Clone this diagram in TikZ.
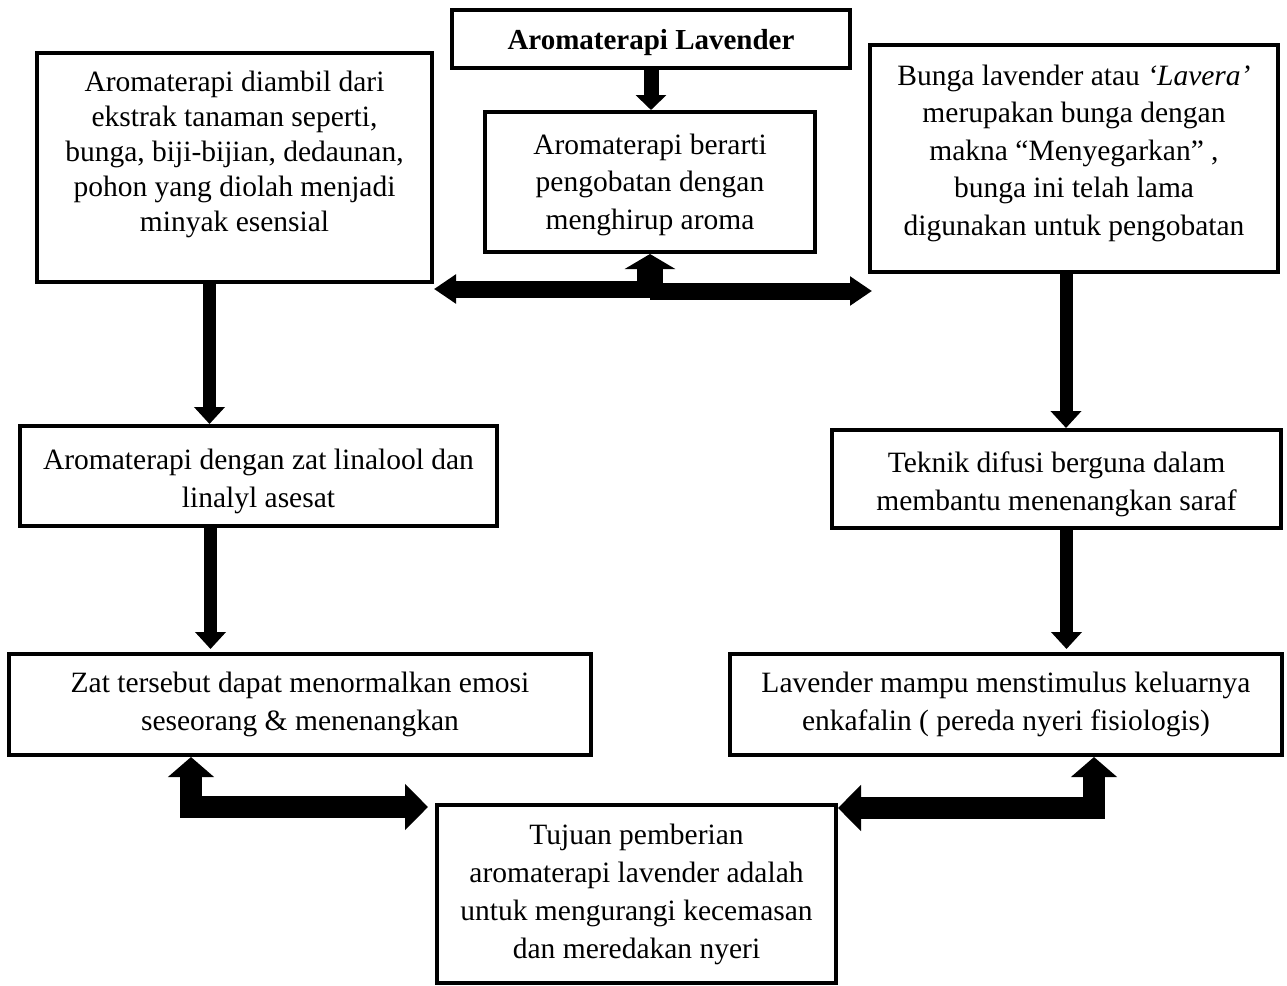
\documentclass[tikz,border=0pt]{standalone}
\usepackage{fontspec}
\setmainfont{Liberation Serif}
\usepackage{tikz}
\usetikzlibrary{arrows.meta, positioning, calc}

\begin{document}
\begin{tikzpicture}[x=1pt, y=-1pt]
\tikzset{box/.style={
    draw, line width=4pt,
    align=flush center,
    inner sep=0pt,
    font=\fontsize{29.5}{37.5}\selectfont
  },
  fat/.style={line width=13pt, -{Triangle[width=30pt,length=17pt]}},
  wide/.style={line width=17pt, -{Triangle[width=28pt,length=22pt]}},
  upfat/.style={line width=26pt, -{Triangle[width=50pt,length=15pt]}},
  ell/.style={line width=22pt, line join=miter,
    {Triangle[width=45pt,length=20pt]}-{Triangle[width=45pt,length=23pt]}}
}

\useasboundingbox (0,0) rectangle (1287,985);

% boxes
\node[box, minimum width=398pt, minimum height=58pt, text height=28pt, font=\bfseries\fontsize{29}{35}\selectfont] (title) at (651,39) {Aromaterapi Lavender};
\node[box, minimum width=395pt, minimum height=229pt, text width=385pt, text depth=172pt, font=\fontsize{29.5}{35}\selectfont] (src) at (234.5,167.5)
  {Aromaterapi diambil dari\\ ekstrak tanaman seperti,\\ bunga, biji-bijian, dedaunan,\\ pohon yang diolah menjadi\\ minyak esensial};
\node[box, minimum width=330pt, minimum height=140pt, text width=320pt, text height=26pt] (mean) at (650,182)
  {Aromaterapi berarti\\ pengobatan dengan\\ menghirup aroma};
\node[box, minimum width=408pt, minimum height=227pt, text width=398pt, text depth=167pt] (flower) at (1074,158.5)
  {Bunga lavender atau \textit{‘Lavera’}\\ merupakan bunga dengan\\ makna “Menyegarkan” ,\\ bunga ini telah lama\\ digunakan untuk pengobatan};
\node[box, minimum width=477pt, minimum height=100pt, text width=467pt, text height=31pt, font=\fontsize{29.5}{38}\selectfont] (linal) at (258.5,476)
  {Aromaterapi dengan zat linalool dan\\ linalyl asesat};
\node[box, minimum width=449pt, minimum height=98pt, text width=439pt, text height=31pt, font=\fontsize{29.5}{38}\selectfont] (difusi) at (1056.5,479)
  {Teknik difusi berguna dalam\\ membantu menenangkan saraf};
\node[box, minimum width=582pt, minimum height=101pt, text width=572pt] (emosi) at (300,704.5)
  {Zat tersebut dapat menormalkan emosi\\ seseorang \& menenangkan};
\node[box, minimum width=552pt, minimum height=101pt, text width=542pt] (enkef) at (1006,704.5)
  {Lavender mampu menstimulus keluarnya\\ enkafalin ( pereda nyeri fisiologis)};
\node[box, minimum width=399pt, minimum height=178pt, text width=389pt, font=\fontsize{29.5}{38}\selectfont] (goal) at (636.5,894)
  {Tujuan pemberian\\ aromaterapi lavender adalah\\ untuk mengurangi kecemasan\\ dan meredakan nyeri};

% arrows
\draw[fat, line width=15pt, -{Triangle[width=30pt,length=15pt]}] (title.south) -- (title.south |- mean.north);

\coordinate (hubL) at ([yshift=-35pt]mean.south);
\coordinate (hubR) at ([yshift=-37pt]mean.south);
\draw[wide] (hubL) -- (hubL -| src.east);
\draw[wide, shorten >=-4pt] (hubR) -- (hubR -| flower.west);
\draw[upfat] (hubL) -- (mean.south);

\coordinate (s1) at ([xshift=-25pt]src.south);
\draw[fat] (s1) -- (s1 |- linal.north);
\coordinate (s2) at ([xshift=-48pt]linal.south);
\draw[fat, shorten >=3pt] (s2) -- (s2 |- emosi.north);
\coordinate (f1) at ([xshift=-8pt]flower.south);
\draw[fat] (f1) -- (f1 |- difusi.north);
\coordinate (f2) at ([xshift=10pt]difusi.south);
\draw[fat, shorten >=3pt] (f2) -- (f2 |- enkef.north);

\draw[ell, shorten >=7pt] ([xshift=-109pt]emosi.south) |- ([yshift=-4pt]goal.north west);
\draw[ell] ([xshift=88pt]enkef.south) |- ([yshift=-5pt]goal.north east);

\end{tikzpicture}
\end{document}
